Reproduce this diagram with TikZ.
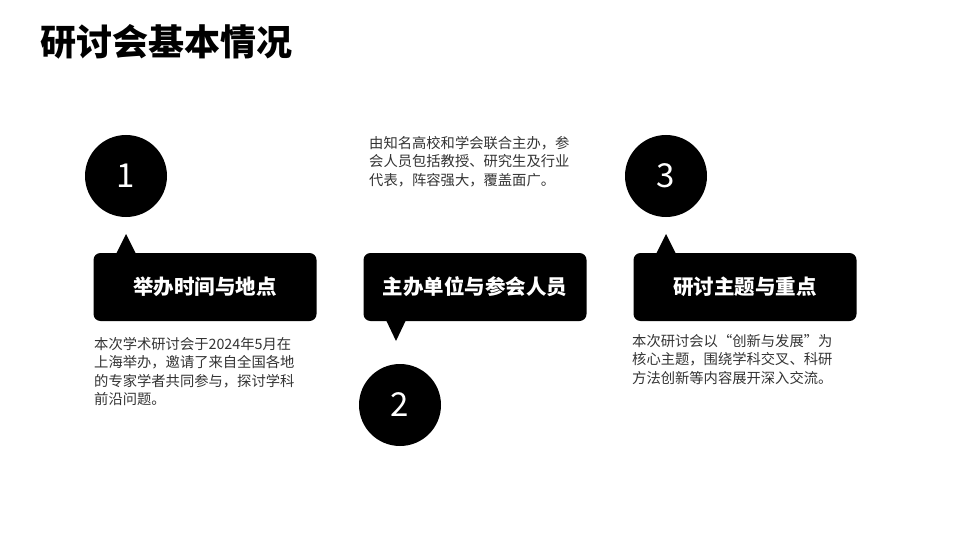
\documentclass[tikz,border=0pt]{standalone}
\usepackage{fontspec}
\setmainfont{Noto Sans CJK SC}
\usetikzlibrary{positioning}
\tikzset{
  numcircle/.style={circle, fill=black, minimum size=82pt, inner sep=0pt, text=white, font=\fontsize{33}{33}\selectfont},
  headbox/.style={rectangle, rounded corners=7pt, fill=black, minimum width=223pt, minimum height=68pt, text=white, font=\fontsize{20.5}{20.5}\selectfont\bfseries},
  bodytext/.style={align=left, anchor=north west, inner sep=0pt, text=black!80, font=\fontsize{14.3}{18.5}\selectfont}
}
\begin{document}
\begin{tikzpicture}[x=1pt, y=-1pt]
  \useasboundingbox (0,0) rectangle (960,540);
  \node (title) [anchor=west, inner sep=0pt, font=\fontsize{36}{36}\selectfont\bfseries] at (40,42) {研讨会基本情况};
  % circles
  \node (c1) [numcircle] at (126,176) {1};
  \node (c2) [numcircle] at (400,405) {2};
  \node (c3) [numcircle] at (666,176) {3};
  % boxes with pointers
  \node (b1) [headbox] at (205,287) {举办时间与地点};
  \node (b2) [headbox] at (475,287) {主办单位与参会人员};
  \node (b3) [headbox] at (745,287) {研讨主题与重点};
  \fill (116,254) -- (126,234) -- (136,254) -- cycle;
  \fill (386,320) -- (396,341) -- (406,320) -- cycle;
  \fill (656,254) -- (666,234) -- (676,254) -- cycle;
  % texts
  \node (t1) [bodytext] at (94,337) {本次学术研讨会于2024年5月在\\上海举办，邀请了来自全国各地\\的专家学者共同参与，探讨学科\\前沿问题。};
  \node (t2) [bodytext] at (369,136) {由知名高校和学会联合主办，参\\会人员包括教授、研究生及行业\\代表，阵容强大，覆盖面广。};
  \node (t3) [bodytext] at (632,334) {本次研讨会以“创新与发展”为\\核心主题，围绕学科交叉、科研\\方法创新等内容展开深入交流。};
\end{tikzpicture}
\end{document}
